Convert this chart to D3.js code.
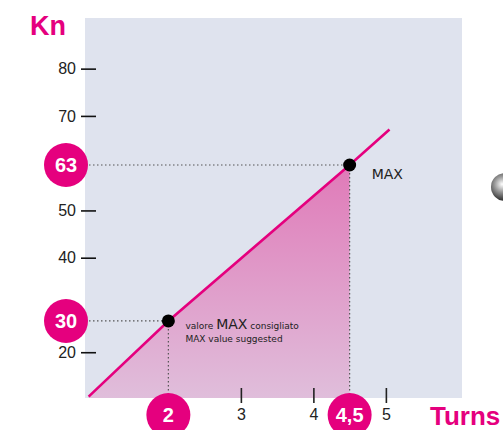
<!DOCTYPE html>
<html>
<head>
<meta charset="utf-8">
<script src="https://cdn.jsdelivr.net/npm/d3@7"></script>
<style>
  body { margin: 0; background: #fff; }
  svg { display: block; }
</style>
</head>
<body>
<div id="chart"></div>
<script>
// load curve (turns -> Kn)
var lineTurns = [0.9, 2, 4.5, 5.05];
var lineKn = [14, 30, 63, 70.5];
// marked points
var markTurns = [2, 4.5];
var markKn = [30, 63];
var markTurnLabels = ["2", "4,5"];
var markKnLabels = ["30", "63"];
var yTicks = [20, 40, 50, 70, 80];
var xTicks = [3, 4, 5];

var W = 503, H = 430;
var magenta = "#e5007e";

var svg = d3.select("#chart").append("svg")
    .attr("width", W).attr("height", H);

var x = d3.scaleLinear().domain([0.85, 6.05]).range([85, 462]);
var y = d3.scaleLinear().domain([13.7, 94.1]).range([398, 18]);

var defs = svg.append("defs");
var grad = defs.append("linearGradient")
    .attr("id", "fillGrad").attr("x1", 0).attr("y1", 0).attr("x2", 0).attr("y2", 1);
grad.append("stop").attr("offset", "0%").attr("stop-color", "#e07ab8");
grad.append("stop").attr("offset", "100%").attr("stop-color", "#e0bedb");

var ball = defs.append("radialGradient")
    .attr("id", "ball").attr("cx", "40%").attr("cy", "40%").attr("r", "60%");
ball.append("stop").attr("offset", "0%").attr("stop-color", "#ffffff");
ball.append("stop").attr("offset", "45%").attr("stop-color", "#9a9a9a");
ball.append("stop").attr("offset", "100%").attr("stop-color", "#2a2a2a");

// panel
svg.append("rect")
    .attr("x", x.range()[0]).attr("y", y.range()[1])
    .attr("width", x.range()[1] - x.range()[0])
    .attr("height", y.range()[0] - y.range()[1])
    .attr("fill", "#dfe3ee");

var pts = lineTurns.map(function(t, i) { return {t: t, k: lineKn[i]}; });

// filled area up to the MAX point
var area = d3.area()
    .x(function(d) { return x(d.t); })
    .y0(y.range()[0])
    .y1(function(d) { return y(d.k); });
svg.append("path")
    .datum(pts.filter(function(d) { return d.t <= 4.5; }))
    .attr("d", area)
    .attr("fill", "url(#fillGrad)");

// dotted guides
var marks = markTurns.map(function(t, i) {
  return {t: t, k: markKn[i], tl: markTurnLabels[i], kl: markKnLabels[i]};
});
marks.forEach(function(m) {
  svg.append("line")
      .attr("x1", x.range()[0]).attr("x2", x(m.t))
      .attr("y1", y(m.k)).attr("y2", y(m.k))
      .attr("stroke", "#555").attr("stroke-width", 1.2)
      .attr("stroke-dasharray", "1.5,2.5");
  svg.append("line")
      .attr("x1", x(m.t)).attr("x2", x(m.t))
      .attr("y1", y(m.k)).attr("y2", y.range()[0])
      .attr("stroke", "#555").attr("stroke-width", 1.2)
      .attr("stroke-dasharray", "1.5,2.5");
});

// curve
svg.append("path")
    .datum(pts)
    .attr("d", d3.line().x(function(d) { return x(d.t); }).y(function(d) { return y(d.k); }))
    .attr("fill", "none")
    .attr("stroke", magenta)
    .attr("stroke-width", 2.6);

svg.selectAll(".dot")
    .data(marks)
    .enter().append("circle")
    .attr("class", "dot")
    .attr("cx", function(d) { return x(d.t); })
    .attr("cy", function(d) { return y(d.k); })
    .attr("r", 6.5)
    .attr("fill", "#000");

// y axis (ticks sit a little above the data scale in the original drawing)
var tickFont = "'Liberation Sans Narrow', 'Liberation Sans', Arial, sans-serif";
var yAxis = svg.append("g")
    .attr("transform", "translate(" + x.range()[0] + ",-16)")
    .call(d3.axisLeft(y).tickValues(yTicks).tickSize(0).tickPadding(9));
yAxis.select(".domain").remove();
yAxis.selectAll(".tick line")
    .attr("x1", -4).attr("x2", 11)
    .attr("stroke", "#111").attr("stroke-width", 1.6);
yAxis.selectAll(".tick text")
    .attr("fill", "#222")
    .style("font-family", tickFont)
    .style("font-size", "16px");

// x axis
var xAxis = svg.append("g")
    .attr("transform", "translate(0," + y.range()[0] + ")")
    .call(d3.axisBottom(x).tickValues(xTicks).tickSize(0).tickFormat(d3.format("d")));
xAxis.select(".domain").remove();
xAxis.selectAll(".tick line")
    .attr("y1", -10).attr("y2", 5)
    .attr("stroke", "#222").attr("stroke-width", 1.6);
xAxis.selectAll(".tick text")
    .attr("y", 22).attr("dy", 0)
    .attr("fill", "#222")
    .style("font-family", tickFont)
    .style("font-size", "16px");

// magenta value badges
var badgeFont = "'Liberation Sans', Arial, sans-serif";
marks.forEach(function(m) {
  var g = svg.append("g").attr("transform", "translate(66," + y(m.k) + ")");
  g.append("circle").attr("r", 22).attr("fill", magenta);
  g.append("text").attr("text-anchor", "middle").attr("dy", "0.36em")
      .attr("fill", "#fff").style("font-family", badgeFont)
      .style("font-weight", "bold").style("font-size", "20px")
      .text(m.kl);
  var h = svg.append("g").attr("transform", "translate(" + x(m.t) + ",415)");
  h.append("circle").attr("r", 22).attr("fill", magenta);
  h.append("text").attr("text-anchor", "middle").attr("dy", "0.36em")
      .attr("fill", "#fff").style("font-family", badgeFont)
      .style("font-weight", "bold").style("font-size", "20px")
      .text(m.tl);
});

// axis titles
svg.append("text").attr("x", 30).attr("y", 35)
    .attr("fill", magenta).style("font-family", badgeFont)
    .style("font-weight", "bold").style("font-size", "27px")
    .text("Kn");
svg.append("text").attr("x", 430).attr("y", 425)
    .attr("fill", magenta).style("font-family", badgeFont)
    .style("font-weight", "bold").style("font-size", "26px")
    .text("Turns");

// annotations
var noteFont = "'DejaVu Sans', sans-serif";
svg.append("text").attr("x", x(4.5) + 22).attr("y", y(63) + 14)
    .attr("fill", "#222").style("font-family", noteFont).style("font-size", "14px")
    .text("MAX");
var note = svg.append("text").attr("x", x(2) + 17).attr("y", y(30) + 8)
    .attr("fill", "#222").style("font-family", noteFont).style("font-size", "9px");
note.append("tspan").text("valore ");
note.append("tspan").style("font-size", "14px").text("MAX");
note.append("tspan").text(" consigliato");
svg.append("text").attr("x", x(2) + 17).attr("y", y(30) + 21)
    .attr("fill", "#222").style("font-family", noteFont).style("font-size", "9px")
    .text("MAX value suggested");

// decorative ball on the right edge
svg.append("circle").attr("cx", 505).attr("cy", 187).attr("r", 14)
    .attr("fill", "url(#ball)");
</script>
</body>
</html>
